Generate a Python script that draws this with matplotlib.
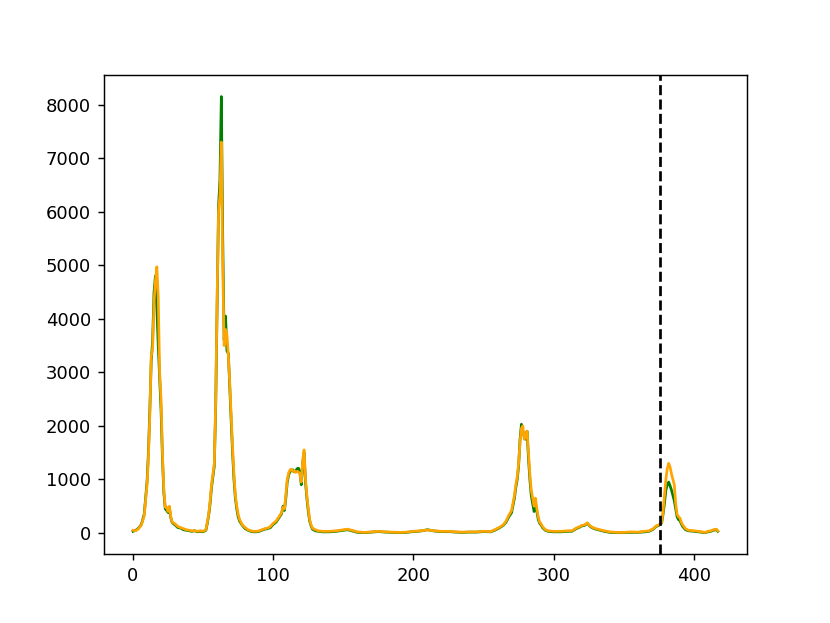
import matplotlib
matplotlib.use('Agg')
import matplotlib.pyplot as plt

# sample positions
x = [0, 2, 4, 6, 8, 10, 11, 12, 13, 14, 15, 16, 17, 18, 19, 20, 21, 22, 23, 24, 25, 26, 27, 28, 30,
     32, 34, 36, 38, 40, 42, 44, 46, 48, 50, 52, 53, 54, 55, 56, 57, 58, 59, 60, 61, 62, 63, 64, 65, 66, 67, 68, 69, 70,
     71, 72, 73, 74, 75, 76, 78, 80, 82, 84, 86, 88, 90, 92, 94, 96, 98, 100, 102, 104, 106, 107, 108, 109, 110,
     111, 112, 113, 114, 115, 116, 117, 118, 119, 120, 121, 122, 123, 124, 125, 126, 127, 128, 130, 132, 135, 140, 145, 150, 153, 156, 160,
     165, 170, 175, 180, 185, 190, 195, 200, 205, 210, 215, 220, 225, 230, 235, 240, 245, 250, 255, 258, 261, 264, 266, 268, 270,
     272, 273, 274, 275, 276, 277, 278, 279, 280, 281, 282, 283, 284, 285, 286, 287, 288, 289, 290, 291, 292, 294, 296, 300, 305,
     310, 313, 316, 318, 320, 322, 324, 326, 328, 330, 333, 336, 340, 345, 350, 355, 360, 365, 368, 371, 373, 375, 376, 377, 378,
     379, 380, 381, 382, 383, 384, 385, 386, 387, 388, 389, 390, 391, 392, 394, 396, 400, 403, 406, 408, 410, 412, 414, 416, 417]

green_vals = [30, 50, 90, 160, 350, 950, 1500, 2300, 3200, 3600, 4500, 4800, 4200, 3500, 2900, 2300, 1400, 750, 450, 420, 380, 450, 280, 190, 150,
              100, 90, 60, 50, 40, 30, 40, 20, 30, 20, 50, 180, 330, 550, 850, 1050, 1250, 2400, 4300, 6100, 6600, 8150, 5500, 3600, 4050, 3400, 3350, 2700, 2100,
              1500, 1000, 650, 450, 300, 220, 140, 80, 50, 30, 20, 20, 30, 50, 70, 80, 100, 160, 200, 280, 360, 500, 420, 650, 950,
              1080, 1150, 1160, 1180, 1140, 1150, 1200, 1210, 1150, 900, 1300, 1500, 950, 650, 400, 220, 130, 70, 40, 30, 20, 20, 30, 50, 60, 40, 10,
              5, 15, 25, 15, 10, 5, 10, 25, 35, 60, 35, 25, 25, 15, 10, 15, 15, 25, 20, 50, 90, 140, 200, 300, 380,
              650, 850, 1000, 1250, 1750, 2030, 1900, 1800, 1750, 1900, 1400, 1000, 700, 550, 400, 550, 400, 250, 180, 150, 100, 50, 30, 20, 20,
              30, 30, 80, 100, 130, 140, 180, 120, 90, 70, 50, 30, 10, 5, 5, 10, 10, 20, 30, 70, 120, 140, 160, 190, 350,
              550, 800, 900, 950, 880, 800, 700, 600, 450, 300, 250, 230, 170, 120, 60, 40, 30, 20, 10, 5, 20, 30, 50, 60, 30]

orange_vals = [50, 40, 80, 150, 320, 900, 1400, 2200, 3300, 3450, 4300, 4700, 4970, 4400, 3000, 2500, 1500, 800, 480, 480, 400, 500, 300, 200, 170,
               120, 100, 80, 60, 50, 40, 40, 30, 40, 30, 60, 200, 350, 600, 900, 1100, 1300, 2500, 4400, 6000, 6300, 7300, 5000, 3500, 3800, 3700, 3300, 2800, 2200,
               1600, 1100, 700, 500, 350, 250, 150, 100, 60, 40, 30, 30, 40, 60, 80, 90, 120, 180, 220, 300, 380, 480, 450, 700, 1000,
               1120, 1180, 1190, 1150, 1160, 1130, 1150, 1140, 1100, 950, 1350, 1550, 1000, 700, 450, 250, 150, 90, 60, 40, 30, 30, 40, 60, 70, 50, 20,
               10, 20, 30, 20, 15, 10, 15, 30, 40, 55, 40, 30, 30, 20, 15, 20, 20, 30, 25, 60, 100, 150, 220, 330, 420,
               700, 900, 1050, 1300, 1700, 1950, 2000, 1750, 1800, 1900, 1500, 1100, 800, 650, 500, 650, 450, 300, 200, 170, 120, 60, 40, 30, 30,
               40, 40, 90, 110, 140, 150, 190, 130, 100, 80, 60, 40, 20, 10, 10, 20, 15, 30, 40, 80, 130, 150, 170, 200, 400,
               700, 1000, 1200, 1300, 1230, 1100, 1000, 900, 550, 350, 300, 280, 200, 150, 80, 50, 40, 30, 20, 10, 30, 40, 60, 70, 40]

split_at = 376  # dashed marker

fig = plt.figure(figsize=(830 / 130, 623 / 130), dpi=130)
plt.plot(x, green_vals, color='green', linewidth=1.5)
plt.plot(x, orange_vals, color='orange', linewidth=1.5)
plt.axvline(x=split_at, color='black', linestyle='--', linewidth=1.5)

plt.savefig('out.png', dpi=130)
